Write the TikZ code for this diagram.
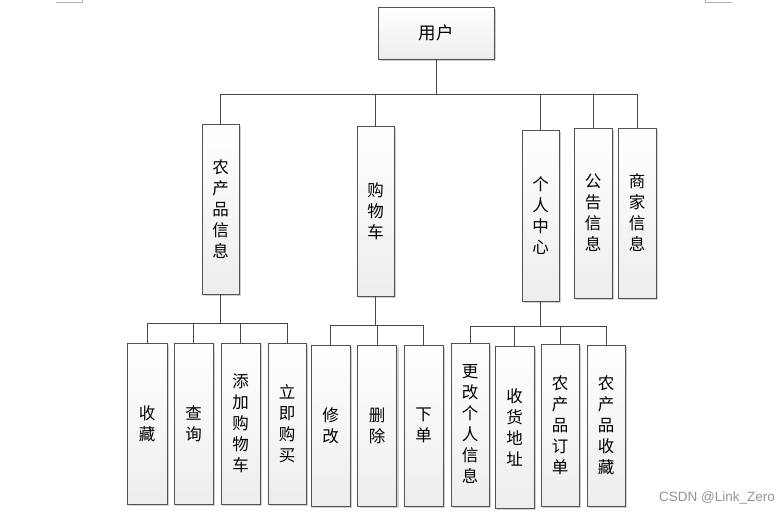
\documentclass[tikz,border=0pt]{standalone}
\usepackage{fontspec}
\newfontfamily\cjk{Noto Sans CJK SC}
\newfontfamily\wmfont{Liberation Sans}
\usetikzlibrary{shadows}
\begin{document}
\begin{tikzpicture}[x=1pt,y=-1pt,
  box/.style={draw=black!68, line width=0.9pt, top color=white, bottom color=black!7,
    drop shadow={shadow xshift=2pt, shadow yshift=-2pt, fill=black!30, opacity=0.6},
    inner sep=0pt, align=center, font=\cjk\fontsize{16.5}{21}\selectfont},
  conn/.style={draw=black!72, line width=0.9pt}]
\useasboundingbox[fill=white] (0,0) rectangle (783,513);
% crop marks
\draw[black!30, line width=0.6pt] (56,2) -- (82,2) -- (82,0);
\draw[black!30, line width=0.6pt] (705,0) -- (705,2) -- (732,2);
% root
\node[box, minimum width=116pt, minimum height=52pt, font=\cjk\fontsize{17.5}{21}\selectfont] (user) at (436,33) {用户};
% level 2
\node[box, minimum width=37pt, minimum height=170pt] (n1) at (220.5,209) {农\\产\\品\\信\\息};
\node[box, minimum width=37pt, minimum height=170pt] (n2) at (375.5,211) {购\\物\\车};
\node[box, minimum width=37pt, minimum height=171pt] (n3) at (540.5,215.5) {个\\人\\中\\心};
\node[box, minimum width=38pt, minimum height=170pt] (n4) at (593,213) {公\\告\\信\\息};
\node[box, minimum width=38pt, minimum height=170pt] (n5) at (637,213) {商\\家\\信\\息};
% level 3
\node[box, minimum width=40pt, minimum height=161pt] (a1) at (147,423.5) {收\\藏};
\node[box, minimum width=39pt, minimum height=161pt] (a2) at (193.5,423.5) {查\\询};
\node[box, minimum width=39pt, minimum height=161pt] (a3) at (240.5,423.5) {添\\加\\购\\物\\车};
\node[box, minimum width=38pt, minimum height=161pt] (a4) at (287,423.5) {立\\即\\购\\买};
\node[box, minimum width=39pt, minimum height=161pt] (b1) at (330.5,425.5) {修\\改};
\node[box, minimum width=39pt, minimum height=161pt] (b2) at (377,425.5) {删\\除};
\node[box, minimum width=39pt, minimum height=161pt] (b3) at (423.5,425.5) {下\\单};
\node[box, minimum width=38pt, minimum height=163pt] (c1) at (470,424.5) {更\\改\\个\\人\\信\\息};
\node[box, minimum width=39pt, minimum height=162pt] (c2) at (514.5,427) {收\\货\\地\\址};
\node[box, minimum width=38pt, minimum height=162pt] (c3) at (560,425) {农\\产\\品\\订\\单};
\node[box, minimum width=38pt, minimum height=161pt] (c4) at (606,425.5) {农\\产\\品\\收\\藏};
% bus coordinates
\coordinate (busA) at (0,94);
\coordinate (busB) at (0,323);
\coordinate (busC) at (0,325);
\coordinate (busD) at (0,326);
% connectors level 1-2
\draw[conn] (user.south) -- (user.south |- busA);
\draw[conn] (n1.north |- busA) -- (n5.north |- busA);
\foreach \n in {n1,n2,n3,n4,n5} \draw[conn] (\n.north) -- (\n.north |- busA);
% 农产品信息 children
\draw[conn] (n1.south) -- (n1.south |- busB);
\draw[conn] (a1.north |- busB) -- (a4.north |- busB);
\foreach \n in {a1,a2,a3,a4} \draw[conn] (\n.north) -- (\n.north |- busB);
% 购物车 children
\draw[conn] (n2.south) -- (n2.south |- busC);
\draw[conn] (b1.north |- busC) -- (b3.north |- busC);
\foreach \n in {b1,b2,b3} \draw[conn] (\n.north) -- (\n.north |- busC);
% 个人中心 children
\draw[conn] (n3.south) -- (n3.south |- busD);
\draw[conn] (c1.north |- busD) -- (c4.north |- busD);
\foreach \n in {c1,c2,c3,c4} \draw[conn] (\n.north) -- (\n.north |- busD);
% watermark
\node[font=\wmfont\fontsize{13.5}{15}\selectfont, text=black!42, anchor=west, inner sep=0pt] (wm) at (659,498) {CSDN @Link\_Zero};
\end{tikzpicture}
\end{document}
